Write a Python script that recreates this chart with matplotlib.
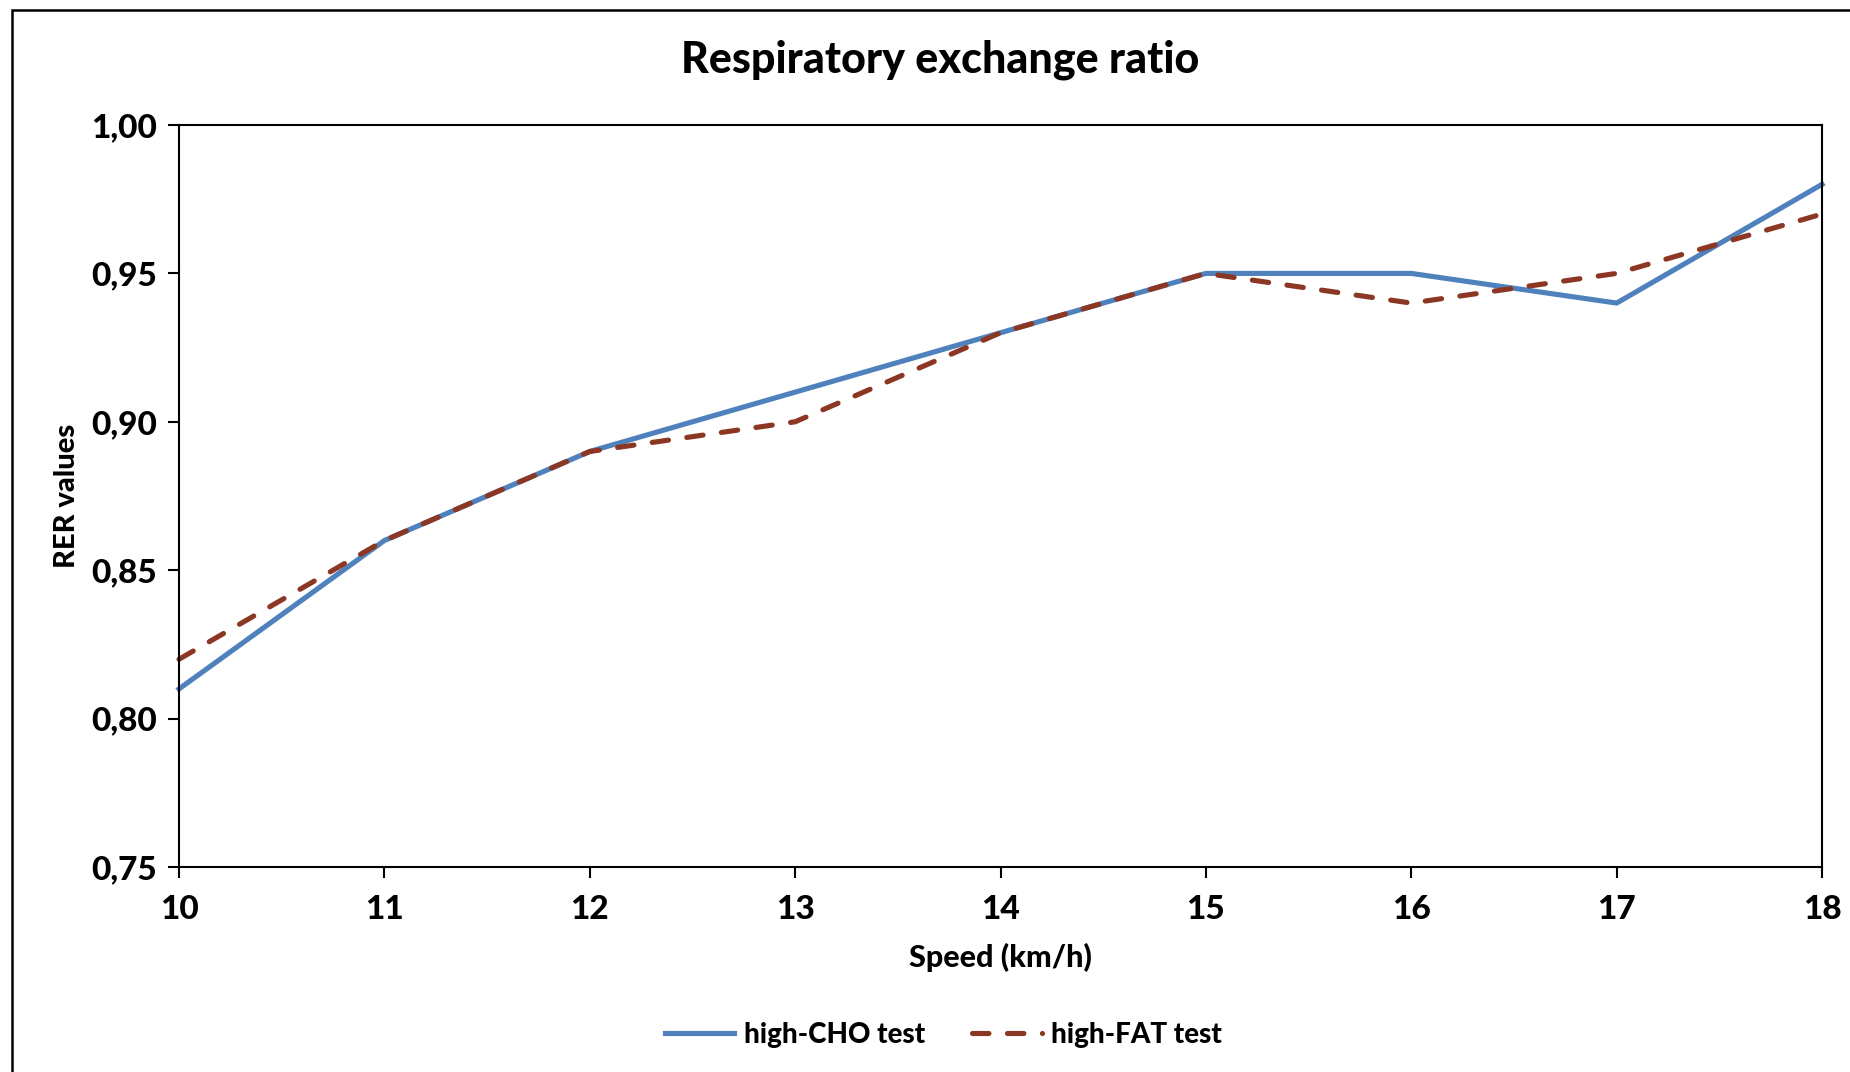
import matplotlib.pyplot as plt
from matplotlib.patches import Rectangle
from matplotlib.ticker import FuncFormatter

speed = [10, 11, 12, 13, 14, 15, 16, 17, 18]
rer_cho = [0.81, 0.86, 0.89, 0.91, 0.93, 0.95, 0.95, 0.94, 0.98]
rer_fat = [0.82, 0.86, 0.89, 0.90, 0.93, 0.95, 0.94, 0.95, 0.97]
y_ticks = [0.75, 0.80, 0.85, 0.90, 0.95, 1.00]

plt.rcParams['font.family'] = ['Lato', 'DejaVu Sans']
plt.rcParams['font.weight'] = 'black'

fig = plt.figure(figsize=(18.5, 10.72), dpi=100)
ax = fig.add_axes([179/1850, 1-867/1072, (1822-179)/1850, (867-125)/1072])

# outer chart frame (cut off at the right/bottom like the original)
fig.patches.append(Rectangle((12/1850, -0.1), 1.2, 1-10/1072+0.1, transform=fig.transFigure,
                             fill=False, edgecolor='black', linewidth=1.8))

ax.plot(speed, rer_cho, color='#4F81BD', linewidth=3.7, label='high-CHO test',
        solid_joinstyle='miter', clip_on=False)
ax.plot(speed, rer_fat, color='#8C3723', linewidth=3.7, label='high-FAT test',
        dashes=(3.2, 3.6), dash_capstyle='round', clip_on=False)

ax.set_xlim(10, 18)
ax.set_ylim(0.75, 1.00)
ax.set_xticks(speed)
ax.set_yticks(y_ticks)
ax.yaxis.set_major_formatter(FuncFormatter(lambda v, p: ('%.2f' % v).replace('.', ',')))
ax.tick_params(axis='both', direction='out', length=8, width=1.5, labelsize=24, pad=8)
ax.tick_params(axis='x', pad=12)
for s in ax.spines.values():
    s.set_linewidth(1.5)

fig.text(0.508, 1-60/1072, 'Respiratory exchange ratio', fontsize=31, fontweight='black',
         ha='center', va='center')
ax.set_xlabel('Speed (km/h)', fontsize=22, fontweight='black', labelpad=14)
ax.set_ylabel('RER values', fontsize=21, fontweight='black', labelpad=8)

fig.legend(loc='center', bbox_to_anchor=(0.51, 1-1035/1072), ncol=2, frameon=False,
           fontsize=20, handlelength=2.5, columnspacing=1.7, handletextpad=0.35)

fig.savefig('out.png', dpi=100)
